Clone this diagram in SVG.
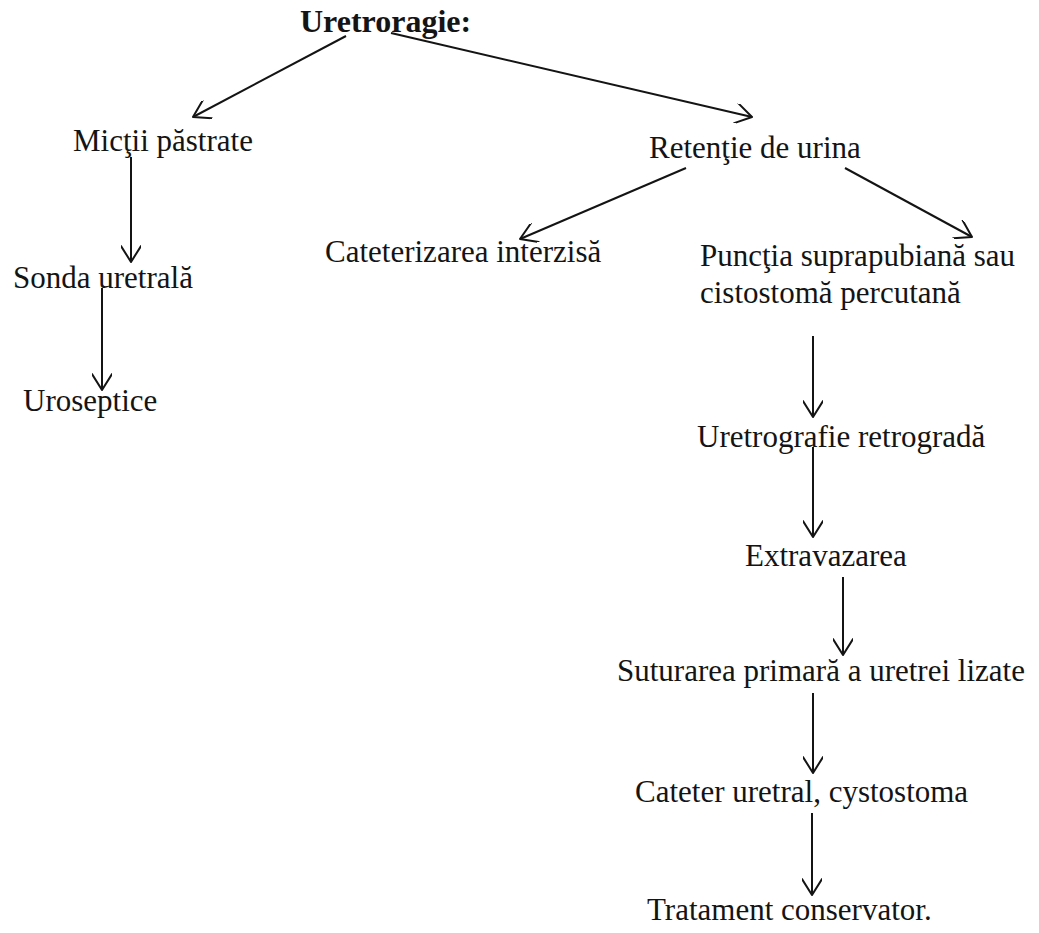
<svg xmlns="http://www.w3.org/2000/svg" width="1039" height="933" viewBox="0 0 1039 933">
<style>
text{font-family:"Liberation Serif","Times New Roman",serif;font-size:31px;fill:#141414}
.title{font-weight:bold;font-size:32px}
.edge{stroke:#141414;stroke-width:2;fill:none;marker-end:url(#arr)}
</style>
<defs>
<marker id="arr" viewBox="0 0 20 20" refX="18" refY="10" markerWidth="20" markerHeight="20" markerUnits="userSpaceOnUse" orient="auto">
<path d="M2,0 L18,10 L2,20" fill="none" stroke="#141414" stroke-width="2" stroke-linecap="round" stroke-linejoin="round"/>
</marker>
</defs>
<rect width="1039" height="933" fill="#fff"/>
<g id="connectors">
<line class="edge" x1="346" y1="36" x2="193" y2="117"/>
<line class="edge" x1="391" y1="33" x2="752" y2="117"/>
<line class="edge" x1="131" y1="157" x2="131" y2="262"/>
<line class="edge" x1="102" y1="288" x2="102" y2="390"/>
<line class="edge" x1="686" y1="168" x2="520" y2="239"/>
<line class="edge" x1="845" y1="168" x2="972" y2="237"/>
<line class="edge" x1="813" y1="336" x2="813" y2="417"/>
<line class="edge" x1="813" y1="447" x2="813" y2="537"/>
<line class="edge" x1="843" y1="577" x2="843" y2="655"/>
<line class="edge" x1="813" y1="693" x2="813" y2="773"/>
<line class="edge" x1="812" y1="813" x2="812" y2="895"/>
</g>
<g id="n-uretroragie"><text class="title" x="300" y="32">Uretroragie:</text></g>
<g id="n-mictii"><text x="73" y="151">Micţii păstrate</text></g>
<g id="n-retentie"><text x="649" y="158">Retenţie de urina</text></g>
<g id="n-sonda"><text x="13" y="288">Sonda uretrală</text></g>
<g id="n-uroseptice"><text x="23" y="411">Uroseptice</text></g>
<g id="n-cateterizarea"><text x="325" y="262">Cateterizarea interzisă</text></g>
<g id="n-punctia"><text x="700" y="266">Puncţia suprapubiană sau</text><text x="700" y="303">cistostomă percutană</text></g>
<g id="n-uretrografie"><text x="697" y="447">Uretrografie retrogradă</text></g>
<g id="n-extravazarea"><text x="745" y="566">Extravazarea</text></g>
<g id="n-suturarea"><text x="617" y="681">Suturarea primară a uretrei lizate</text></g>
<g id="n-cateter"><text x="635" y="802">Cateter uretral, cystostoma</text></g>
<g id="n-tratament"><text x="647" y="920">Tratament conservator.</text></g>
</svg>
